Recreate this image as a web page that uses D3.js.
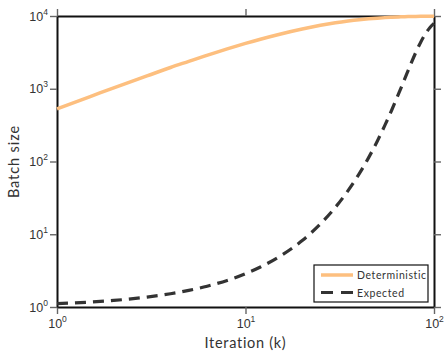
<!DOCTYPE html>
<html>
<head>
<meta charset="utf-8">
<script src="https://cdn.jsdelivr.net/npm/d3@7"></script>
<style>
  html, body { margin: 0; padding: 0; background: #fff; }
  svg { display: block; font-family: Lato, "Noto Sans", sans-serif; }
</style>
</head>
<body>
<svg id="chart" width="444" height="352"></svg>
<script>
// Iteration index (k) at which both curves are sampled
const iterations = [1, 1.5, 2, 3, 4, 5, 6, 7, 8, 10, 12, 15, 20, 25, 30, 35, 40, 45, 50, 55, 60, 65, 70, 75, 80, 85, 90, 95, 100];
// Deterministic batch size
const deterministic = [530, 780, 1030, 1500, 1960, 2380, 2790, 3170, 3530, 4200, 4800, 5580, 6630, 7440, 8050, 8510, 8870, 9140, 9340, 9500, 9620, 9710, 9780, 9830, 9870, 9900, 9930, 9940, 9960];
// Expected batch size
const expected = [1.11, 1.17, 1.23, 1.37, 1.52, 1.69, 1.88, 2.09, 2.32, 2.87, 3.54, 4.86, 8.2, 13.9, 23.5, 39.8, 67, 113, 190, 318, 527, 861, 1376, 2128, 3140, 4367, 5676, 6897, 7900];

const seriesNames = ["Deterministic", "Expected"];
const xTicks = [1, 10, 100];
const yTicks = [1, 10, 100, 1000, 10000];
const xTickExp = ["0", "1", "2"];
const yTickExp = ["0", "1", "2", "3", "4"];

const W = 444, H = 352;
const margin = { top: 16, right: 10, bottom: 45, left: 57 };
const svg = d3.select("#chart");

const x = d3.scaleLog().domain([1, 100]).range([margin.left, W - margin.right]);
const y = d3.scaleLog().domain([1, 10000]).range([H - margin.bottom, margin.top]);

const tickColor = "#666";
const textColor = "#333";

function styleAxis(g) {
  g.select(".domain").attr("stroke", "#111").attr("stroke-width", 2);
  g.selectAll(".tick line").attr("stroke", tickColor).attr("stroke-width", 1.4);
}

// Bottom axis with power-of-ten labels
const gx = svg.append("g")
  .attr("transform", `translate(0,${H - margin.bottom})`)
  .call(d3.axisBottom(x).tickValues(xTicks).tickSize(7).tickSizeOuter(0).tickFormat(""))
  .call(styleAxis);
gx.selectAll(".tick").each(function(d, i) {
  const t = d3.select(this).append("text")
    .attr("y", 21).attr("fill", textColor)
    .attr("text-anchor", "middle")
    .attr("font-size", 12.5);
  t.append("tspan").text("10");
  t.append("tspan").attr("dy", -6).attr("font-size", 8.5).text(xTickExp[i]);
});

// Left axis
const gy = svg.append("g")
  .attr("transform", `translate(${margin.left},0)`)
  .call(d3.axisLeft(y).tickValues(yTicks).tickSize(7).tickSizeOuter(0).tickFormat(""))
  .call(styleAxis);
gy.selectAll(".tick").each(function(d, i) {
  const t = d3.select(this).append("text")
    .attr("x", -9).attr("y", 4).attr("fill", textColor)
    .attr("text-anchor", "end")
    .attr("font-size", 12.5);
  t.append("tspan").text("10");
  t.append("tspan").attr("dy", -6).attr("font-size", 8.5).text(yTickExp[i]);
});

// Top and right axes (ticks only)
svg.append("g")
  .attr("transform", `translate(0,${margin.top})`)
  .call(d3.axisTop(x).tickValues(xTicks).tickSize(7).tickSizeOuter(0).tickFormat(""))
  .call(styleAxis);
svg.append("g")
  .attr("transform", `translate(${W - margin.right},0)`)
  .call(d3.axisRight(y).tickValues(yTicks).tickSize(7).tickSizeOuter(0).tickFormat(""))
  .call(styleAxis);

// Axis titles
svg.append("text")
  .attr("x", (margin.left + W - margin.right) / 2)
  .attr("y", 348)
  .attr("text-anchor", "middle")
  .attr("font-size", 14.5)
  .attr("letter-spacing", 0.7)
  .attr("fill", textColor)
  .text("Iteration (k)");
svg.append("text")
  .attr("transform", `translate(19,${(margin.top + H - margin.bottom) / 2}) rotate(-90)`)
  .attr("text-anchor", "middle")
  .attr("font-size", 14.5)
  .attr("letter-spacing", 0.9)
  .attr("fill", textColor)
  .text("Batch size");

// Curves
const line = d3.line().curve(d3.curveMonotoneX)
  .x(d => x(d[0])).y(d => y(d[1]));

svg.append("path")
  .datum(iterations.map((k, i) => [k, deterministic[i]]))
  .attr("fill", "none")
  .attr("stroke", "#fdbf7f")
  .attr("stroke-width", 3.5)
  .attr("d", line);

svg.append("path")
  .datum(iterations.map((k, i) => [k, expected[i]]))
  .attr("fill", "none")
  .attr("stroke", "#333")
  .attr("stroke-width", 3.2)
  .attr("stroke-dasharray", "11,7")
  .attr("d", line);

// Legend
const lg = svg.append("g").attr("transform", "translate(314,265)");
lg.append("rect")
  .attr("width", 114).attr("height", 37)
  .attr("fill", "#fff").attr("stroke", "#111").attr("stroke-width", 1.2);
const styles = [
  { stroke: "#fdbf7f", dash: null, w: 3.5 },
  { stroke: "#333", dash: "12,8", w: 3.2 }
];
seriesNames.forEach((name, i) => {
  const yy = 10 + i * 17.5;
  lg.append("line")
    .attr("x1", 7).attr("x2", 39).attr("y1", yy).attr("y2", yy)
    .attr("stroke", styles[i].stroke)
    .attr("stroke-width", styles[i].w)
    .attr("stroke-dasharray", styles[i].dash);
  lg.append("text")
    .attr("x", 43).attr("y", yy + 4)
    .attr("font-size", 10.5)
    .attr("letter-spacing", 0.6)
    .attr("fill", textColor)
    .text(name);
});
</script>
</body>
</html>
